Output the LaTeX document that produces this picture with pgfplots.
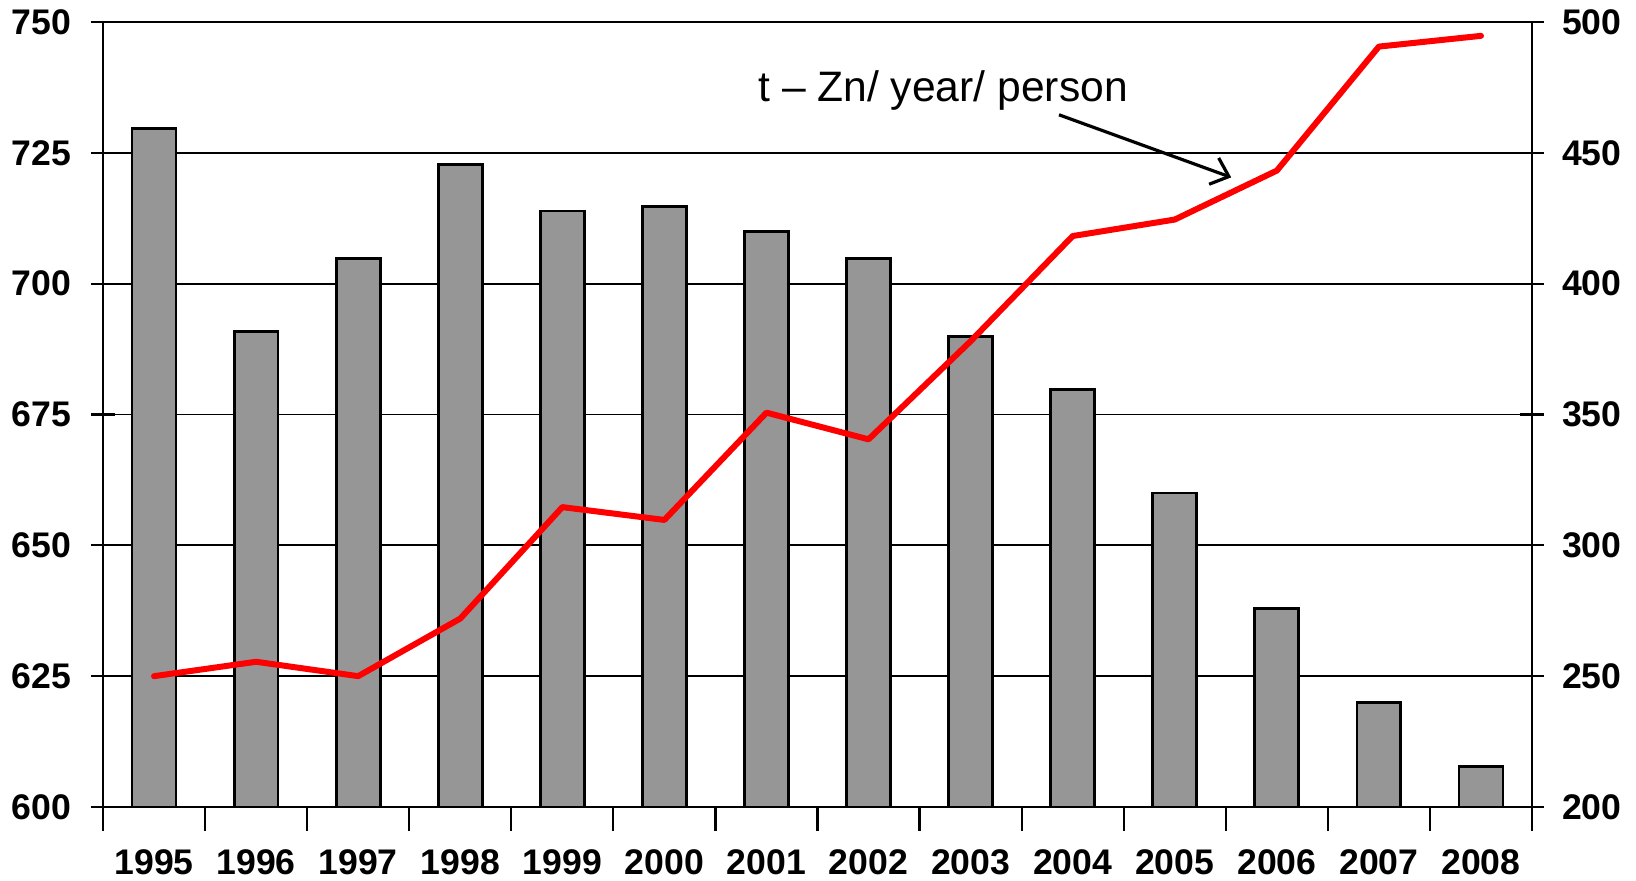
\documentclass[border=0pt]{standalone}
\usepackage{fontspec}
\setmainfont{Liberation Sans}
\usepackage{pgfplots}
\usepackage{pgfplotstable}
\pgfplotsset{compat=1.18}
\usetikzlibrary{arrows.meta}
\definecolor{bargray}{HTML}{969696}

\pgfplotstableread{
x bar line
0 729.6 250
1 690.8 255.5
2 704.8 250
3 722.7 272
4 713.9 314.6
5 714.8 309.7
6 710 350.7
7 704.8 340.5
8 689.9 378
9 679.8 418.2
10 660 424.5
11 638 443.2
12 620 490.6
13 607.8 494.7
}\data

\begin{document}
\begin{tikzpicture}
\begin{axis}[
  scale only axis, width=714.5pt, height=392.5pt,
  xmin=-0.5, xmax=13.5, ymin=600, ymax=750,
  ytick={600,625,...,750},
  ytick pos=left, xtick pos=bottom,
  xtick={-0.5,0.5,...,13.5},
  xticklabels={1995,1996,1997,1998,1999,2000,2001,2002,2003,2004,2005,2006,2007,2008,{}},
  xticklabel style={xshift=25.52pt, yshift=-9.2pt, inner sep=0pt, font=\fontsize{17.8}{20}\selectfont\bfseries},
  yticklabel style={xshift=-6.5pt, font=\fontsize{17.8}{20}\selectfont\bfseries},
  /pgf/number format/assume math mode=true,
  major tick length=12pt, tick align=center,
  tick style={black, line width=1.1pt},
  axis line style={black, line width=1.3pt},
  ymajorgrids, grid style={black, line width=0.9pt},
  ybar, bar width=0.43,
]
\addplot[fill=bargray, draw=black, line width=1.4pt] table[x=x, y=bar] {\data};
\end{axis}
\begin{axis}[
  scale only axis, width=714.5pt, height=392.5pt,
  xmin=-0.5, xmax=13.5, ymin=200, ymax=500,
  axis y line*=right, axis x line=none,
  ytick={200,250,...,500},
  yticklabel style={xshift=5.5pt, font=\fontsize{17.8}{20}\selectfont\bfseries},
  /pgf/number format/assume math mode=true,
  major tick length=12pt, tick align=center,
  tick style={black, line width=1.1pt},
  axis line style={black, line width=1.3pt},
]
\addplot[red, line width=3pt, line cap=round, line join=round, mark=none] table[x=x, y=line] {\data};
\end{axis}
\node[anchor=base west, inner sep=0, font=\fontsize{21.3}{25}\selectfont] at (327.5pt,352.9pt) {t – Zn/ year/ person};
\draw[line width=1.6pt, -{Straight Barb[length=8pt, width=14pt]}] (478pt,346.1pt) -- (564.1pt,314.8pt);
\pgfresetboundingbox
\path[use as bounding box] (-51.5pt,-37pt) rectangle (766.5pt,403.5pt);
\end{tikzpicture}
\end{document}
